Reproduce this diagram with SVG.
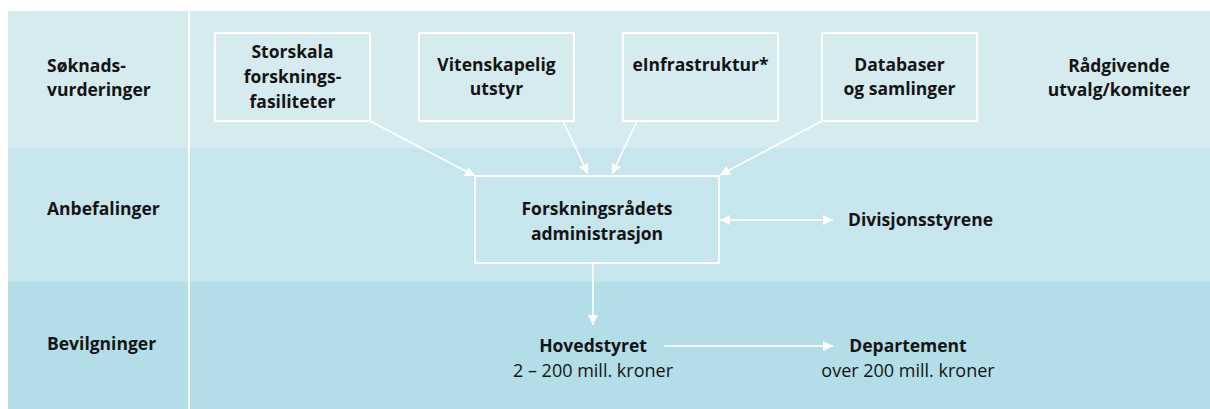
<svg xmlns="http://www.w3.org/2000/svg" width="1210" height="409" viewBox="0 0 1210 409">
<style>
.t{font-family:"Open Sans","Liberation Sans",sans-serif;font-size:17.5px;font-weight:700;fill:#141414}
.r{font-family:"Open Sans","Liberation Sans",sans-serif;font-size:18px;font-weight:400;fill:#141414}
.c{text-anchor:middle}
.box{fill:none;stroke:#ffffff;stroke-width:2}
.ln{fill:none;stroke:#ffffff;stroke-width:1.6}
</style>
<defs>
<marker id="ah" viewBox="0 0 10 10" refX="10" refY="5" markerWidth="10" markerHeight="10" markerUnits="userSpaceOnUse" orient="auto-start-reverse">
<path d="M0,0 L10,5 L0,10 Z" fill="#ffffff"/>
</marker>
</defs>
<rect width="1210" height="409" fill="#ffffff"/>
<g id="bands">
<rect x="8" y="11" width="1202" height="137" fill="#d5ebf0"/>
<rect x="8" y="148" width="1202" height="134" fill="#c7e5ed"/>
<rect x="8" y="282" width="1202" height="127" fill="#b3dee7"/>
<line x1="189" y1="11" x2="189" y2="409" stroke="#ffffff" stroke-width="2"/>
</g>
<g id="row-labels">
<text class="t" x="47" y="72">Søknads-</text>
<text class="t" x="47" y="96">vurderinger</text>
<text class="t" x="47" y="215">Anbefalinger</text>
<text class="t" x="47" y="350">Bevilgninger</text>
</g>
<g id="node-storskala">
<rect class="box" x="215" y="33" width="155" height="88"/>
<text class="t c" x="292.5" y="58">Storskala</text>
<text class="t c" x="292.5" y="83">forsknings-</text>
<text class="t c" x="292.5" y="108">fasiliteter</text>
</g>
<g id="node-vitenskapelig">
<rect class="box" x="419" y="33" width="155" height="88"/>
<text class="t c" x="496.5" y="71">Vitenskapelig</text>
<text class="t c" x="496.5" y="95">utstyr</text>
</g>
<g id="node-einfrastruktur">
<rect class="box" x="623" y="33" width="155" height="88"/>
<text class="t c" x="700.5" y="71">eInfrastruktur*</text>
</g>
<g id="node-databaser">
<rect class="box" x="822" y="33" width="155" height="88"/>
<text class="t c" x="899.5" y="71">Databaser</text>
<text class="t c" x="899.5" y="95">og samlinger</text>
</g>
<g id="node-radgivende">
<text class="t c" x="1119" y="72">Rådgivende</text>
<text class="t c" x="1119" y="96">utvalg/komiteer</text>
</g>
<g id="node-administrasjon">
<rect class="box" x="475" y="176" width="244" height="87"/>
<text class="t c" x="597" y="215">Forskningsrådets</text>
<text class="t c" x="597" y="240">administrasjon</text>
</g>
<g id="node-divisjonsstyrene">
<text class="t" x="848" y="226">Divisjonsstyrene</text>
</g>
<g id="node-hovedstyret">
<text class="t c" x="593" y="352">Hovedstyret</text>
<text class="r c" x="593" y="377">2 – 200 mill. kroner</text>
</g>
<g id="node-departement">
<text class="t c" x="908" y="352">Departement</text>
<text class="r c" x="908" y="377">over 200 mill. kroner</text>
</g>
<g id="connectors">
<line class="ln" x1="370" y1="121" x2="475" y2="176" marker-end="url(#ah)"/>
<line class="ln" x1="563" y1="121" x2="588" y2="174" marker-end="url(#ah)"/>
<line class="ln" x1="637" y1="121" x2="612" y2="174" marker-end="url(#ah)"/>
<line class="ln" x1="822" y1="121" x2="720" y2="175" marker-end="url(#ah)"/>
<line class="ln" x1="720" y1="220" x2="833" y2="220" marker-start="url(#ah)" marker-end="url(#ah)"/>
<line class="ln" x1="593" y1="263" x2="593" y2="325" marker-end="url(#ah)"/>
<line class="ln" x1="664" y1="346" x2="833" y2="346" marker-end="url(#ah)"/>
</g>
</svg>
